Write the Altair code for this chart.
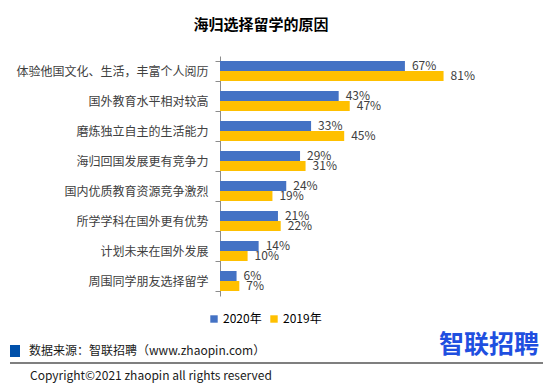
import altair as alt
import pandas as pd

categories = [
    "体验他国文化、生活，丰富个人阅历",
    "国外教育水平相对较高",
    "磨炼独立自主的生活能力",
    "海归回国发展更有竞争力",
    "国内优质教育资源竞争激烈",
    "所学学科在国外更有优势",
    "计划未来在国外发展",
    "周围同学朋友选择留学",
]
values_2020 = [67, 43, 33, 29, 24, 21, 14, 6]
values_2019 = [81, 47, 45, 31, 19, 22, 10, 7]
series = ["2020年", "2019年"]
colors = ["#4472C4", "#FFC000"]

rows = []
for c, a, b in zip(categories, values_2020, values_2019):
    rows.append({"reason": c, "year": series[0], "value": a, "label": f"{a}%"})
    rows.append({"reason": c, "year": series[1], "value": b, "label": f"{b}%"})
df = pd.DataFrame(rows)

FONT = "Noto Sans CJK SC"
TXT = "#404040"

base = alt.Chart(df).encode(
    y=alt.Y("reason:N", sort=categories,
            scale=alt.Scale(paddingInner=1/3, paddingOuter=1/6),
            axis=alt.Axis(title=None, labelFont=FONT, labelFontSize=12, labelColor=TXT,
                          domainColor="#8c8c8c", tickColor="#8c8c8c", tickSize=5,
                          tickBand="extent", labelPadding=7, labelLimit=300)),
    yOffset=alt.YOffset("year:N", sort=series, scale=alt.Scale(domain=series)),
)

bars = base.mark_bar().encode(
    x=alt.X("value:Q", scale=alt.Scale(domain=[0, 100]), axis=None),
    color=alt.Color("year:N", sort=series,
                    scale=alt.Scale(domain=series, range=colors),
                    legend=alt.Legend(title=None, orient="none", direction="horizontal",
                                      legendX=-12, legendY=257, symbolType="square",
                                      symbolSize=55, symbolStrokeWidth=0,
                                      labelFont=FONT, labelFontSize=12, labelColor="#000000",
                                      columnPadding=6, symbolOffset=0, labelOffset=3)),
)

labels = base.mark_text(align="left", baseline="middle", dx=7, font=FONT,
                        fontSize=12, color=TXT).encode(
    x=alt.X("value:Q"),
    text="label:N",
)

one = alt.Data(values=[{}])

title = alt.Chart(one).mark_text(text="海归选择留学的原因", font=FONT, fontSize=15,
                                 fontWeight="bold", color="#000000", align="center",
                                 baseline="middle").encode(
    x=alt.value(41), y=alt.value(-31))

src_box = alt.Chart(one).mark_rect(color="#0050AA").encode(
    x=alt.value(-210), x2=alt.value(-200), y=alt.value(289), y2=alt.value(301))

src_text = alt.Chart(one).mark_text(text="数据来源：智联招聘（www.zhaopin.com）", font=FONT,
                                    fontSize=12, color="#1a1a1a", align="left",
                                    baseline="middle").encode(
    x=alt.value(-191), y=alt.value(295))

logo = alt.Chart(one).mark_text(text="智联招聘", font=FONT, fontSize=25, fontWeight="bold",
                                color="#1F4FE0", align="center", baseline="middle").encode(
    x=alt.value(269), y=alt.value(289))

rule = alt.Chart(one).mark_rule(color="#000000", strokeWidth=1.2).encode(
    x=alt.value(-210), x2=alt.value(323), y=alt.value(307))

copyright_text = alt.Chart(one).mark_text(text="Copyright©2021 zhaopin all rights reserved",
                                          font=FONT, fontSize=12, color="#1a1a1a",
                                          align="left", baseline="middle").encode(
    x=alt.value(-190), y=alt.value(320))

chart = alt.layer(bars, labels, title, src_box, src_text, logo, rule, copyright_text).properties(
    width=276, height=240,
    autosize=alt.AutoSizeParams(type="none"),
    padding={"left": 212, "top": 48, "right": 49, "bottom": 88},
    background="white",
).configure_view(stroke=None)

chart.save("out.html", embed_options={"renderer": "svg", "actions": False})
